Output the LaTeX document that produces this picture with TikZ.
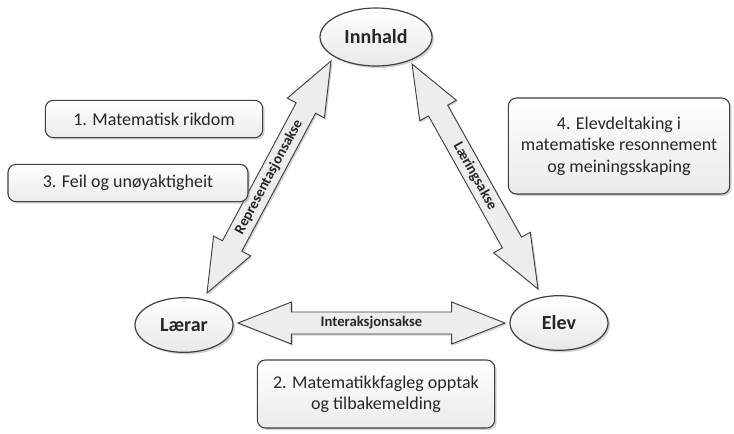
\documentclass[tikz,border=0pt]{standalone}
\usepackage{fontspec}
\setmainfont{Carlito}
\usetikzlibrary{shapes.geometric,shadows,calc}
\definecolor{edgegray}{HTML}{404040}
\definecolor{textgray}{HTML}{262626}
% block arrow with a head at both ends, from #1 to #2, labelled #3
\newcommand{\axisarrow}[3]{%
  \coordinate (#1h) at ($(#1)!40pt!(#2)$);
  \coordinate (#2h) at ($(#2)!40pt!(#1)$);
  \draw[axis] (#1)
    -- ($(#1h)!15.75pt!90:(#2)$) -- ($(#1h)!8.25pt!90:(#2)$)
    -- ($(#2h)!8.25pt!-90:(#1)$) -- ($(#2h)!15.75pt!-90:(#1)$)
    -- (#2)
    -- ($(#2h)!15.75pt!90:(#1)$) -- ($(#2h)!8.25pt!90:(#1)$)
    -- ($(#1h)!8.25pt!-90:(#2)$) -- ($(#1h)!15.75pt!-90:(#2)$)
    -- cycle;
  \path (#1) -- (#2) node[midway, sloped, axislabel] {#3};}

\begin{document}
\begin{tikzpicture}[
  x=0.75pt, y=-0.75pt,
  font=\fontsize{13.5}{16}\selectfont, text=textgray,
  corner/.style={ellipse, draw=edgegray, line width=0.9pt, inner sep=0pt, minimum width=73.5pt, minimum height=41pt,
    top color=white, bottom color=gray!18, font=\fontsize{15}{17}\selectfont\bfseries,
    drop shadow={opacity=0.35, shadow xshift=1.5pt, shadow yshift=-1.5pt}},
  aspect/.style={rounded corners=6pt, draw=edgegray, line width=0.8pt, align=center, inner sep=3pt,
    top color=white, bottom color=gray!16,
    drop shadow={opacity=0.35, shadow xshift=1.5pt, shadow yshift=-1.5pt}},
  axis/.style={draw=edgegray, line width=0.7pt, line join=miter, fill=gray!14,
    drop shadow={opacity=0.35, shadow xshift=1.2pt, shadow yshift=-1.2pt}},
  axislabel/.style={inner sep=0pt, font=\fontsize{11}{13}\selectfont\bfseries}
]
\useasboundingbox (0,0) rectangle (734,433);

% the three corners
\node[corner, minimum width=84pt, minimum height=43.5pt] (innhald) at (376,37) {Innhald};
\node[corner] (laerar) at (184,325) {Lærar};
\node[corner] (elev) at (559,323) {Elev};

% tips of the axes
\coordinate (repA) at (207,293);
\coordinate (repB) at (331,61);
\coordinate (laerA) at (412,64);
\coordinate (laerB) at (538,289);
\coordinate (intA) at (238,323);
\coordinate (intB) at (505,323);

% axes
\axisarrow{repA}{repB}{Representasjonsakse}
\axisarrow{laerA}{laerB}{Læringsakse}
\axisarrow{intA}{intB}{Interaksjonsakse}

% the four aspects
\node[aspect, minimum width=163pt, minimum height=28pt] (rikdom) at (154,119) {1. Matematisk rikdom};
\node[aspect, minimum width=180pt, minimum height=28pt] (feil) at (128,183) {3. Feil og unøyaktigheit};
\node[aspect, minimum width=166pt, minimum height=72pt] (deltaking) at (619,146)
  {4. Elevdeltaking i\\matematiske resonnement\\og meiningsskaping};
\node[aspect, minimum width=178pt, minimum height=51pt] (opptak) at (376,394)
  {2. Matematikkfagleg opptak\\og tilbakemelding};
\end{tikzpicture}
\end{document}
